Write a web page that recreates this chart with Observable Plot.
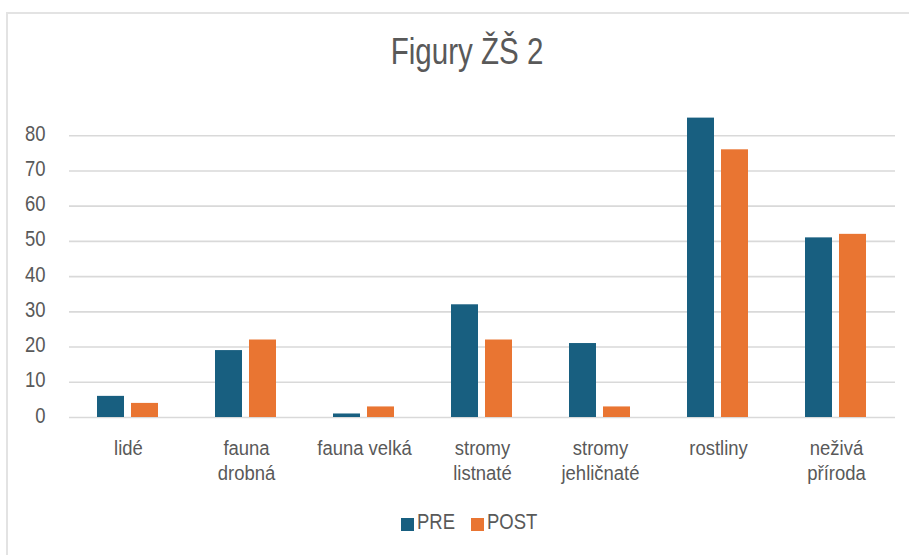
<!DOCTYPE html>
<html>
<head>
<meta charset="utf-8">
<script src="https://cdn.jsdelivr.net/npm/d3@7"></script>
<script src="https://cdn.jsdelivr.net/npm/@observablehq/plot@0.6"></script>
<style>
  html, body { margin: 0; padding: 0; background: #fff; }
  #wrap { position: relative; width: 909px; height: 555px; overflow: hidden; background: #fff;
    font-family: "Liberation Sans", Arial, sans-serif; color: #595959; }
  #frame { position: absolute; left: 6px; top: 12px; width: 960px; height: 600px; border: 2px solid #e3e3e3; box-sizing: border-box; }
  #titlebox { position: absolute; left: 0; top: 34px; width: 934px; text-align: center; }
  #title { display: inline-block; font-size: 36px; line-height: 36px; transform: scaleX(0.82); transform-origin: center; }
  #chart { position: absolute; left: 0; top: 90px; }
  .lg { position: absolute; font-size: 22px; line-height: 22px; transform: scaleX(0.84); transform-origin: left; }
  .sw { position: absolute; width: 13px; height: 13px; }
</style>
</head>
<body>
<div id="wrap">
  <div id="frame"></div>
  <div id="titlebox"><span id="title">Figury ŽŠ 2</span></div>
  <div id="chart"></div>
  <div id="legend"></div>
</div>
<script>
const categories = ["lidé", "fauna drobná", "fauna velká", "stromy listnaté", "stromy jehličnaté", "rostliny", "neživá příroda"];
const categoryLabels = ["lidé", "fauna\ndrobná", "fauna velká", "stromy\nlistnaté", "stromy\njehličnaté", "rostliny", "neživá\npříroda"];
const series = ["PRE", "POST"];
const preValues = [6, 19, 1, 32, 21, 85, 51];
const postValues = [4, 22, 3, 22, 3, 76, 52];
const yTicks = [0, 10, 20, 30, 40, 50, 60, 70, 80];
const colors = ["#185f80", "#e97532"];

const data = [];
categories.forEach((c, i) => {
  data.push({category: c, series: "PRE", value: preValues[i]});
  data.push({category: c, series: "POST", value: postValues[i]});
});
const labelOf = new Map(categories.map((c, i) => [c, categoryLabels[i]]));

const plot = Plot.plot({
  width: 909,
  height: 400,
  marginLeft: 69,
  marginRight: 14,
  marginTop: 10,
  marginBottom: 73,
  style: {fontFamily: '"Liberation Sans", Arial, sans-serif', fontSize: "21px", color: "#595959", background: "transparent"},
  fx: {domain: categories, padding: 0},
  x: {domain: series, paddingInner: 0.2, paddingOuter: 0.82, axis: null},
  y: {domain: [0, 90]},
  color: {domain: series, range: colors},
  marks: [
    Plot.gridY(yTicks, {stroke: "#d9d9d9", strokeOpacity: 1, strokeWidth: 1.6}),
    Plot.barY(data, {fx: "category", x: "series", y: "value", fill: "series"}),
    Plot.axisY(yTicks, {tickSize: 0, tickPadding: 24, dy: -2, fontSize: 22, fill: "#595959", label: null}),
    Plot.axisFx({anchor: "bottom", tickSize: 0, tickPadding: 20, fontSize: 21, lineHeight: 1.19, fill: "#595959", label: null, tickFormat: d => labelOf.get(d)})
  ]
});

// emulate a narrow typeface by compressing text horizontally around its anchor
plot.querySelectorAll("text").forEach(t => {
  const group = t.closest("g[aria-label]");
  const isFx = group && group.getAttribute("aria-label").startsWith("fx-axis");
  const S = isFx ? 0.88 : 0.84;
  const tr = t.getAttribute("transform");
  if (tr) {
    t.setAttribute("transform", tr + ` scale(${S},1)`);
  } else {
    const x = +(t.getAttribute("x") || 0), y = +(t.getAttribute("y") || 0);
    t.removeAttribute("x"); t.removeAttribute("y");
    t.setAttribute("transform", `translate(${x},${y}) scale(${S},1)`);
  }
});
document.getElementById("chart").appendChild(plot);

const legend = document.getElementById("legend");
const legendX = [401, 471];
series.forEach((s, i) => {
  const sw = document.createElement("div");
  sw.className = "sw";
  sw.style.left = legendX[i] + "px";
  sw.style.top = "518px";
  sw.style.background = colors[i];
  legend.appendChild(sw);
  const t = document.createElement("div");
  t.className = "lg";
  t.style.left = (legendX[i] + 16) + "px";
  t.style.top = "511px";
  t.textContent = s;
  legend.appendChild(t);
});
</script>
</body>
</html>
